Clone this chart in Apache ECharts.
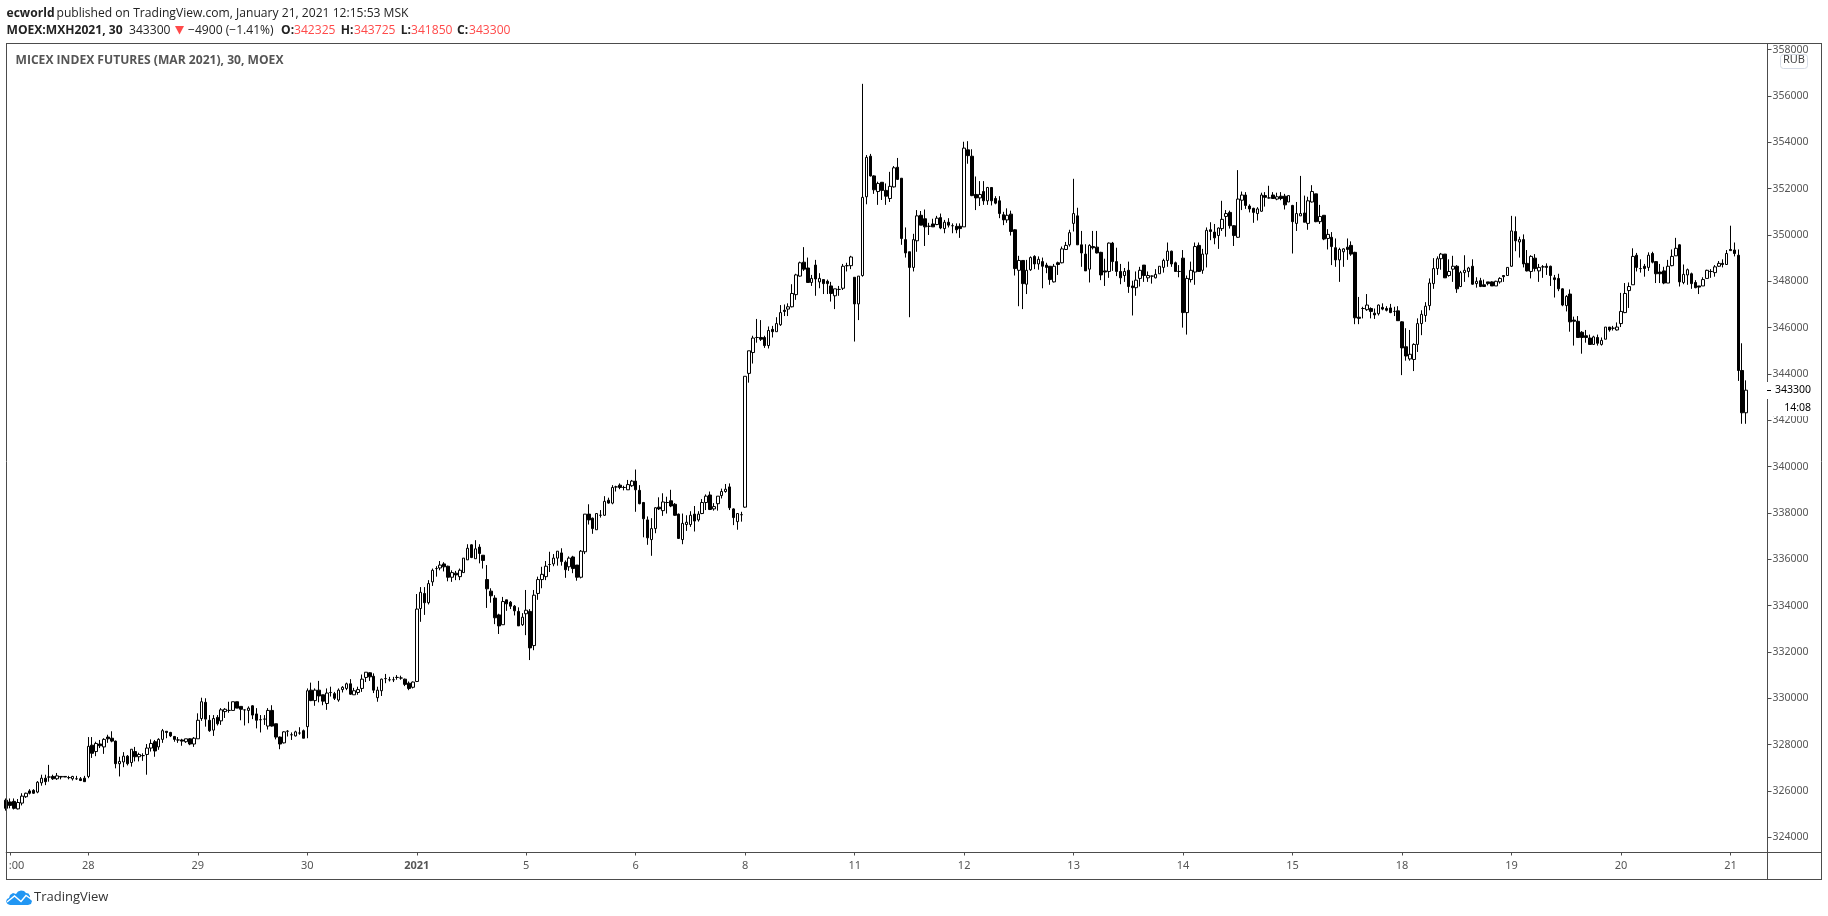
<!DOCTYPE html>
<html>
<head>
<meta charset="utf-8">
<style>html,body{margin:0;padding:0;background:#fff}#c{width:1828px;height:916px}</style>
<script src="https://cdn.jsdelivr.net/npm/echarts@6/dist/echarts.min.js"></script>
</head>
<body>
<div id="c"></div>
<script>
const opens = [
325600,325525,325550,325225,325475,325750,326000,326025,325950,326350,
326550,326600,326625,326525,326625,326625,326575,326525,326525,326525,
326550,326625,327975,327700,328025,327900,328325,328275,328150,327175,
327250,327500,327225,327700,327475,327525,327575,327850,328125,327900,
328225,328575,328525,328350,328200,328200,328125,328250,328025,328250,
329125,329825,329050,328625,329175,329025,329425,329475,329475,329850,
329650,329500,329475,329675,329325,329075,329100,328800,329475,328900,
328325,328075,328575,328425,328375,328500,328600,328775,330350,329900,
330350,330150,329775,330250,330200,329925,330375,330425,330625,330150,
330250,330425,330900,331100,330950,330025,330325,330850,330800,330800,
330900,330875,330825,330650,330475,330725,333875,334525,334125,335025,
335600,335625,335800,335700,335225,335400,335250,335425,335975,336625,
336025,336525,336175,335125,334625,334325,333600,333175,334250,334150,
333975,333750,333175,333650,333750,332275,334525,335125,335250,335775,
335800,336050,336275,335875,335675,336100,335750,335225,336325,337950,
337775,337275,337900,337900,338550,338425,339125,339200,339100,339000,
339175,339375,338975,338450,337700,336850,337325,338250,338100,338450,
338525,338375,337950,336850,337500,337500,337950,337700,337975,338450,
338775,338175,338400,338750,338925,339125,338175,337625,337925,338250,
344025,344925,345575,345575,345575,345225,345925,345825,346125,346750,
346800,346900,347425,348225,348825,348575,347950,348700,347975,348075,
348000,347800,347375,347650,347700,348675,348675,348175,347025,348250,
351650,353400,352550,351875,352275,351925,351575,352075,352925,352450,
349800,349275,348600,349750,350850,350700,350375,350475,350450,350750,
350275,350550,350400,350375,350375,350350,353675,353400,351750,351600,
351875,351475,352050,351575,351475,350875,350650,350900,350225,348475,
348900,347875,348500,349075,348750,348850,348700,348650,347975,348800,
348800,349375,349575,350500,350825,349575,349175,348525,349500,349475,
349250,348450,348425,349650,348850,348425,348250,348475,347800,347725,
348125,348700,348150,348225,348150,348325,348600,348900,349300,348800,
348425,349000,346650,348075,348400,349550,348475,349175,350225,350125,
349975,350275,350800,350975,350400,349900,351500,351725,351250,351150,
350925,351025,351700,351600,351725,351550,351675,351675,351425,351275,
350500,350825,350950,350500,351425,351775,350575,350850,349850,349900,
349450,348925,349275,349475,349550,349250,346450,346825,346775,346825,
346625,346600,346875,346825,346850,346700,346725,346250,345175,344650,
344625,345275,346175,346525,346950,347900,348550,348975,349175,348250,
348525,348650,347775,348375,348425,348650,347900,348025,347850,347975,
347975,347800,347975,348250,348250,348650,350150,349700,349800,348775,
348425,349000,348450,348625,348650,348650,348150,348125,347675,346950,
347450,346325,346275,345800,345650,345550,345275,345575,345275,345500,
346025,345975,345900,346175,346650,347600,347850,349125,348550,348650,
348600,349200,348850,348400,348450,347925,348675,349100,349575,347950,
348275,348325,347950,347800,347800,348125,348425,348375,348650,348775,
348725,349375,349350,349125,344150,342325
];

const highs = [
325675,325675,325675,325650,325900,325925,326075,326075,326425,326700,
326700,327125,326700,326775,326625,326625,326650,326650,326650,326600,
326650,328325,328325,328125,328200,328275,328425,328575,328175,327475,
327675,327550,327800,327900,327650,327625,328025,328225,328200,328275,
328675,328575,328550,328375,328325,328250,328250,328275,328325,329350,
330025,330000,329275,329275,329275,329575,329575,329850,329850,329850,
329650,329500,329650,329700,329575,329275,329275,329575,329700,328900,
328350,328575,328625,328525,328600,328750,328650,330425,330675,330425,
330750,330150,330425,330500,330275,330425,330525,330675,330825,330450,
330500,331025,331125,331125,331075,330500,330850,331050,330925,330925,
331000,330975,330850,330725,330725,334500,334800,334800,335100,335600,
335700,335925,335875,335725,335525,335500,335600,336050,336650,336650,
336825,336650,336175,335750,334750,334450,333650,334375,334250,334200,
334025,333925,333675,334675,333850,334675,335250,335675,335925,336325,
336225,336350,336475,335950,336125,336150,335750,336400,337950,338375,
337800,337975,338125,338725,338660,339200,339175,339275,339175,339425,
339425,339875,339200,338475,337850,337775,338250,338675,338850,338700,
339000,338425,337975,337975,337900,338075,338300,338075,338600,338800,
338925,338425,338725,339050,339250,339275,338200,337975,338050,343900,
345000,345650,346375,346325,345650,346050,346075,346450,346975,347000,
347050,347875,348325,348850,349475,349025,348275,348925,348350,348075,
348075,347975,347675,347800,348750,348800,349100,348175,348225,356525,
353450,353500,352575,352300,352275,352225,352725,352975,353325,352450,
350325,349275,350050,351075,351035,351100,350525,350700,350825,350925,
350650,350725,350500,350500,350500,354025,354050,353700,352525,352325,
352325,352075,352050,351675,351675,351000,351150,351050,350250,349100,
348900,348925,349075,349125,349075,349025,348800,348650,348750,348850,
349500,349700,350225,352425,351175,350175,349600,349600,350175,350175,
349275,348975,349675,349700,349450,348750,348575,348850,348025,348425,
348625,348700,348425,348250,348525,348650,348975,349675,349325,348850,
348700,349350,348250,348850,349675,349675,349400,350325,350550,350475,
350325,351475,351075,351050,350425,352800,351875,351850,351325,351175,
351200,351825,351850,352125,351850,351825,351850,351775,351700,351300,
351425,352550,351700,351650,352150,351775,351300,350850,350250,350125,
349850,349450,349425,349850,349725,349275,347325,346900,347450,346875,
346825,347000,347050,346925,347025,346900,346925,346275,345975,345900,
345325,346400,346750,347100,348125,349000,349075,349225,349175,348950,
349100,348700,348450,349125,348625,348950,348175,348150,348075,347975,
348000,348025,348175,348250,348600,350825,350800,349925,350025,349350,
349125,349175,348750,348700,348775,348675,348275,348325,347700,347400,
347650,346475,346500,345850,345900,345700,345650,345700,345575,346025,
346025,346075,346225,347500,347925,347950,349425,349225,348950,348750,
349250,349275,348875,348750,348625,348925,349375,349875,349600,348725,
348550,348375,348050,347800,348175,348500,348525,348700,348875,348950,
349350,350400,349675,349375,345325,343725
];

const lows = [
325150,325250,325200,325200,325375,325700,325850,325875,325900,326225,
326250,326400,326475,326475,326500,326600,326500,326450,326475,326425,
326400,326550,327425,327500,327850,327600,328075,328100,326975,326625,
327025,327100,327050,327275,327275,327300,326700,327700,327475,327775,
328075,328275,328325,328125,328075,327950,328075,327975,327900,328250,
329025,328775,328550,328375,328825,328850,329150,329375,329475,329575,
329050,328825,328925,329100,328700,328525,328850,328650,328775,328225,
327800,328050,328350,328200,328350,328425,328275,328275,329875,329675,
329825,329700,329500,330075,329925,329850,330250,330350,330150,330150,
330150,330275,330700,330750,330225,329850,330100,330650,330725,330700,
330800,330800,330525,330350,330425,330700,333300,333600,334050,334850,
335250,335525,335475,335050,335025,335100,335100,335425,335975,336050,
336025,335825,335600,333900,334125,333200,332775,333175,333775,333850,
333575,333125,333125,332725,331650,332075,334250,334750,335100,335450,
335700,335725,335725,335200,335500,335400,335075,335175,336225,337500,
337100,337275,337800,337875,338400,338375,338925,339025,338975,339000,
339125,338050,338375,336950,336625,336150,337125,338125,337875,337975,
338250,337875,336875,336650,337225,337400,337200,337625,337950,338125,
338125,338100,338100,338625,338875,338125,337475,337275,337625,338225,
343625,344450,345350,345425,345125,345100,345575,345825,346075,346500,
346500,346875,347200,348200,348450,347950,347800,347375,347700,347450,
347450,347125,346800,347375,347625,348425,348525,345400,346325,348200,
351325,352525,351775,351300,351510,351300,351425,352050,352375,349575,
349025,346450,348425,349275,350425,349525,350000,350350,350425,350250,
350075,350325,350075,350075,349875,350350,353075,351675,351075,351250,
351300,351300,351275,351325,350725,350425,350525,349975,348250,346925,
346800,347450,348450,348525,348500,347700,348350,347850,347950,348275,
348775,349350,349500,350150,349575,348625,348450,347950,349375,349200,
348050,347800,348150,348450,348225,347875,347975,347500,346525,347375,
347775,347975,347975,347900,348125,348325,348375,348625,348625,348425,
348175,346000,345700,347950,347850,348425,348325,348600,349775,349600,
349400,350175,349925,350275,349525,349875,351075,351125,350975,350525,
350625,351000,351225,351575,351575,351500,351500,351100,351425,349200,
350175,350825,350550,350225,351400,350550,350475,349775,349375,348700,
348625,347975,348625,348925,349100,346150,346150,346400,346725,346400,
346375,346525,346750,346700,346625,346500,346300,343950,344575,344575,
344125,344950,345675,346250,346750,347675,348275,348500,348150,348200,
347975,347500,347750,347975,348175,347850,347725,347750,347775,347825,
347800,347800,347900,347975,348250,348625,349300,349025,348600,348425,
348125,348425,347975,348150,348275,347800,347300,347575,346925,346700,
345825,345225,345575,344875,345350,345250,345250,345225,345225,345500,
345825,345875,345875,346025,346625,346850,347850,348425,348375,348200,
348450,348775,347925,347925,347875,347925,348650,349100,347775,347875,
347850,347675,347700,347450,347800,348125,348150,348200,348625,348600,
348725,349325,349075,343700,341850,341850
];

const closes = [
325250,325375,325250,325500,325775,325900,325900,325900,326375,326550,
326400,326600,326525,326650,326600,326600,326575,326625,326525,326450,
326400,327925,327625,328050,327950,328225,328250,328150,327175,327275,
327500,327175,327800,327475,327575,327525,327850,328050,327725,328225,
328600,328525,328375,328225,328200,328150,328250,328025,328275,329050,
329850,329100,328600,329125,328900,329500,329525,329475,329850,329575,
329525,329500,329575,329275,329050,329075,329100,329475,328800,328325,
328025,328550,328575,328425,328550,328500,328275,330325,329900,330350,
330100,329875,330225,330250,330000,330350,330475,330625,330175,330325,
330375,330825,331125,330925,330350,330350,330825,330850,330800,330800,
330900,330875,330600,330425,330700,333850,334575,334125,334950,335525,
335600,335750,335675,335225,335425,335325,335525,336050,336475,336075,
336450,336250,335950,334725,334425,333475,333125,334175,334075,333975,
333775,333125,333500,333800,332175,334450,335125,335350,335700,335775,
336050,336350,335900,335550,336050,335600,335225,336350,337950,337700,
337325,337975,337900,338500,338425,339100,339125,339100,339100,339225,
339375,339000,338400,337750,336925,337325,338225,338175,338475,338450,
338300,337900,336900,337550,337600,337900,337650,337950,338450,338725,
338150,338275,338725,338925,339025,338225,337800,337975,337925,343900,
345000,345550,345575,345500,345225,345875,345825,346175,346650,346700,
346900,347475,348275,348800,348525,347950,348125,348100,348125,347900,
347900,347475,347675,347650,348650,348675,349050,347025,348225,351625,
353350,352550,351950,352225,351925,351675,352100,352900,352400,349850,
349225,348600,349800,350825,350425,350350,350375,350350,350725,350300,
350550,350425,350400,350225,350275,353750,353425,351700,351600,351750,
351475,352050,351475,351375,350925,350650,350850,350150,348550,348900,
347900,348475,349025,348750,348950,348650,348600,348075,348650,348725,
349400,349550,350100,350925,349575,349225,348450,349550,349450,349225,
348275,348400,349650,348850,348425,348150,348425,347775,347725,348050,
348475,348250,348250,348225,348300,348650,348900,349300,348750,348425,
348425,346650,348125,348475,349500,348425,349175,350200,350150,349875,
350300,350675,350925,350400,349975,351550,351725,351275,351125,350975,
351125,351725,351625,351600,351575,351650,351575,351300,351700,350575,
350925,350925,350550,351475,351875,350575,350800,349825,350025,349500,
348925,349375,349400,349375,349175,346425,346400,346825,346975,346700,
346550,346975,346800,346750,346650,346700,346300,345125,344775,344850,
345275,346175,346575,346925,347925,348550,348975,349175,348150,348425,
348650,347675,348375,348475,348575,347875,348000,347775,347775,347900,
347800,348000,348125,348200,348600,350175,349750,349800,348750,348450,
349075,348550,348600,348625,348600,348250,348075,347675,346975,347350,
346250,346275,345575,345575,345575,345275,345600,345325,345450,346025,
345900,345975,346025,346700,347475,347775,349075,348600,348550,348550,
349125,348825,348325,348325,347925,348650,349075,349425,347975,348300,
348500,347900,347725,347750,348075,348475,348425,348625,348775,348725,
349200,349325,349200,344150,342325,343300
];

const dayTickIndex = [1,21,49,77,105,133,161,189,217,245,273,301,329,357,385,413,441];
const dayLabelIndex = [3,21,49,77,105,133,161,189,217,245,273,301,329,357,385,413,441];
const dayLabels = [":00\u00a0","28","29","30","2021","5","6","8","11","12","13","14","15","18","19","20","21"];
const priceTicks = [324000,326000,328000,330000,332000,334000,336000,338000,340000,342000,344000,346000,348000,350000,352000,354000,356000,358000];

const slotCount = 451;
const categories = Array.from({length: slotCount}, (_, i) => {
  const k = dayLabelIndex.indexOf(i);
  return k >= 0 ? dayLabels[k] : "";
});
const n = Math.min(opens.length, highs.length, lows.length, closes.length);
const candles = [];
for (let i = 0; i < n; i++) candles.push([opens[i], closes[i], lows[i], highs[i]]);

const FRAME = "#4c4c4c", AXIS = "#555555", HEAD = '"Open Sans", sans-serif', RED = "#ff4a4a", TICKFONT = '"Noto Sans", sans-serif';
const txt = (x, y, text, o = {}) => ({
  type: "text", x, y, z: 110, silent: true,
  style: { text, fill: o.fill || "#222", font: (o.bold ? "bold " : "") + (o.size || 12.1) + "px " + (o.family || HEAD),
           textAlign: o.align || "left", textVerticalAlign: "middle" }
});
const hline = (x1, y, x2, c = FRAME) => ({ type: "line", z: 105, silent: true, shape: { x1, y1: y, x2, y2: y }, style: { stroke: c, lineWidth: 1 } });
const vline = (x, y1, y2, c = FRAME) => ({ type: "line", z: 105, silent: true, shape: { x1: x, y1, x2: x, y2 }, style: { stroke: c, lineWidth: 1 } });
const cover = (x, y, w, h) => ({ type: "rect", z: 103, silent: true, shape: { x, y, width: w, height: h }, style: { fill: "#fff" } });

const chart = echarts.init(document.getElementById("c"), null, { renderer: "canvas" });
chart.setOption({
  animation: false,
  backgroundColor: "#fff",
  grid: { left: 6.2, top: 43.5, width: 1759.5, height: 809, containLabel: false },
  xAxis: {
    type: "category", data: categories, boundaryGap: false,
    axisLine: { lineStyle: { color: FRAME, width: 1 } },
    axisTick: { length: 3, lineStyle: { color: FRAME }, interval: i => dayTickIndex.includes(i) },
    axisLabel: {
      interval: i => dayLabelIndex.includes(i), margin: 8, color: AXIS, hideOverlap: false,
      fontFamily: TICKFONT, fontSize: 11,
      formatter: v => v === "2021" ? "{b|2021}" : v,
      rich: { b: { fontWeight: "bold", color: AXIS, fontFamily: TICKFONT, fontSize: 11 } }
    },
    splitLine: { show: false }
  },
  yAxis: {
    type: "value", position: "right", min: 323342, max: 358266, offset: 1.8, scale: true,
    axisLine: { show: true, lineStyle: { color: FRAME, width: 1 } },
    axisTick: { show: true, length: 4, lineStyle: { color: FRAME }, customValues: priceTicks },
    axisLabel: { margin: 5, color: AXIS, fontFamily: TICKFONT, fontSize: 10.5, customValues: priceTicks, formatter: v => String(v) },
    splitLine: { show: false }
  },
  series: [{
    type: "candlestick", data: candles, barWidth: 3, clip: true,
    itemStyle: { color: "#ffffff", color0: "#000000", borderColor: "#000000", borderColor0: "#000000", borderWidth: 1 }
  }],
  graphic: { elements: [
    txt(6.5, 13.5, "ecworld", { bold: true }),
    txt(56.5, 13.5, "published on TradingView.com, January 21, 2021 12:15:53 MSK"),
    txt(6.5, 30.5, "MOEX:MXH2021, 30", { bold: true }),
    txt(129, 30.5, "343300"),
    { type: "polygon", z: 110, silent: true, shape: { points: [[175, 26], [184, 26], [179.5, 34.5]] }, style: { fill: RED } },
    txt(188, 30.5, "\u22124900 (\u22121.41%)"),
    txt(281, 30.5, "O:", { bold: true }), txt(294, 30.5, "342325", { fill: RED }),
    txt(340.7, 30.5, "H:", { bold: true }), txt(354, 30.5, "343725", { fill: RED }),
    txt(400.7, 30.5, "L:", { bold: true }), txt(411, 30.5, "341850", { fill: RED }),
    txt(457, 30.5, "C:", { bold: true }), txt(469, 30.5, "343300", { fill: RED }),
    txt(15.5, 60.5, "MICEX INDEX FUTURES (MAR 2021), 30, MOEX", { bold: true, fill: "#555" }),
    { type: "rect", z: 108, silent: true, shape: { x: 1780.5, y: 54.5, width: 27, height: 14, r: 3 }, style: { fill: "#fff", stroke: "#d5dbe6", lineWidth: 1 } },
    txt(1794, 60, "RUB", { size: 11, fill: "#444", align: "center", family: TICKFONT }),
    cover(1766.5, 382, 54.5, 17),
    cover(1769, 399, 52, 17),
    hline(1767, 390.5, 1771, "#000"),
    txt(1811, 390.5, "343300", { size: 10.5, fill: "#000", align: "right", family: TICKFONT }),
    txt(1811, 408, "14:08", { size: 10.5, fill: "#000", align: "right", family: TICKFONT }),
    hline(6, 43.5, 1822), hline(6, 852.5, 1822), hline(6, 879.5, 1822),
    vline(6.5, 43, 880), vline(1821.5, 43, 880),
    vline(1767.5, 852, 880), vline(1767.5, 43, 44),
    { type: "polygon", z: 110, silent: true,
      shape: { points: [[10,905],[7.5,904],[6,901.5],[7,899],[9,898],[10,895],[13,893],[16,894],[18,891.5],[21,890.5],[24,891],[26,893],[28.5,893.5],[30,896],[30,899],[32,901],[31,904],[28,905]] },
      style: { fill: "#2196f3" } },
    { type: "polyline", z: 111, silent: true, shape: { points: [[7, 902], [14.5, 896], [21, 901.5], [26, 895.5], [31, 899]] }, style: { stroke: "#fff", lineWidth: 1.4, fill: "none" } },
    txt(34, 897.5, "TradingView", { size: 13, fill: "#333" })
  ] }
});
</script>
</body>
</html>
